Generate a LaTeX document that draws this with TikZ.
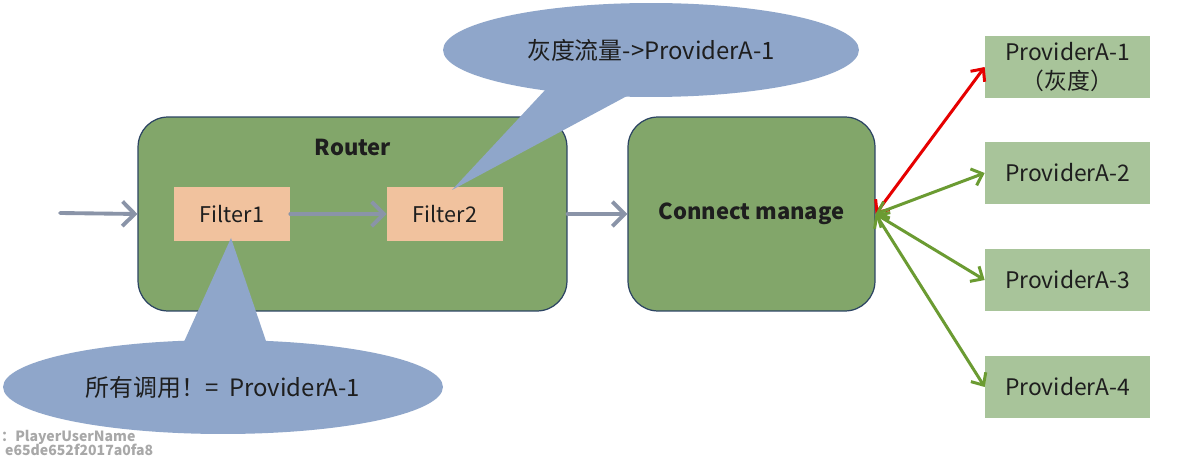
\documentclass[tikz,border=0pt]{standalone}
\usepackage{fontspec}
\setmainfont{Noto Sans CJK SC}
\usetikzlibrary{arrows.meta,shapes.geometric}
\definecolor{boxgreen}{HTML}{82A66A}
\definecolor{boxedge}{HTML}{2C4463}
\definecolor{filtfill}{HTML}{F1C29E}
\definecolor{provfill}{HTML}{A8C49A}
\definecolor{callfill}{HTML}{8FA6CA}
\definecolor{flowgray}{HTML}{8A94A8}
\definecolor{linkgreen}{HTML}{6B9B32}
\definecolor{linkred}{HTML}{E60000}
\definecolor{txt}{HTML}{1E1E1E}
\definecolor{mark}{HTML}{A8A8A8}

\begin{document}
\begin{tikzpicture}[line cap=round,line join=round,x=0.02cm,y=-0.02cm,
  big/.style={draw=boxedge,line width=0.7pt,fill=boxgreen,rounded corners=0.6cm,minimum height=3.88cm,inner sep=0pt},
  filt/.style={fill=filtfill,minimum width=2.32cm,minimum height=1.08cm,inner sep=0pt,text=txt,font=\fontsize{12.3}{14}\selectfont},
  prov/.style={fill=provfill,minimum width=3.3cm,minimum height=1.24cm,inner sep=0pt,align=center,text=txt,font=\fontsize{13}{17}\selectfont},
  callout/.style={ellipse,fill=callfill,inner sep=0pt,minimum height=1.88cm,text=txt,font=\fontsize{13.6}{15}\selectfont},
  flow/.style={draw=flowgray,line width=2.2pt,-{Straight Barb[length=7pt,width=14pt]}},
  link/.style={line width=1.7pt,{Straight Barb[length=5.5pt,width=10pt]}-{Straight Barb[length=5.5pt,width=10pt]}}]
\clip (0,0) rectangle (1177,459);
\fill[white] (0,0) rectangle (1177,459);
\node[big,minimum width=8.58cm] (router) at (352.5,214) {};
\node[font=\bfseries\fontsize{12.5}{14}\selectfont,text=txt] (rtitle) at (353,147) {Router};
\node[big,minimum width=4.94cm,font=\bfseries\fontsize{12.5}{14}\selectfont,text=txt] (conn) at (751.5,214) {Connect manage};
\node[filt] (f1) at (232,214) {Filter1};
\node[filt] (f2) at (445,214) {Filter2};
\foreach \i/\y/\t in {1/67/{ProviderA-1\\（灰度）},2/173/ProviderA-2,3/280/ProviderA-3,4/387/ProviderA-4}
\node[prov] (p\i) at (1067.5,\y) {\t};
\coordinate (in) at (60,213);
\draw[flow] (in) -- (router.west);
\draw[flow] (f1) -- (f2);
\draw[flow] (router) -- (conn);
\draw[link,draw=linkred] (conn.east) -- (p1.west);
\foreach \i in {2,3,4}
\draw[link,draw=linkgreen] (conn.east) -- (p\i.west);
\node[callout,minimum width=8.32cm] (cgray) at (651,50) {灰度流量->ProviderA-1};
\coordinate (ctip) at (452,190);
\fill[callfill] (ctip) -- (547,88) -- (627,96) -- cycle;
\node[callout,minimum width=8.8cm] (call) at (223,387) {所有调用！= \ ProviderA-1};
\coordinate (atip) at (231,238);
\fill[callfill] (atip) -- (183,344) -- (267,344) -- cycle;
\node[anchor=west,text=mark,font=\bfseries\fontsize{8}{9}\selectfont] (wm1) at (-5,437) {：PlayerUserName};
\node[anchor=west,text=mark,font=\bfseries\fontsize{8}{9}\selectfont] (wm2) at (-1,450) {e65de652f2017a0fa8};
\end{tikzpicture}
\end{document}
